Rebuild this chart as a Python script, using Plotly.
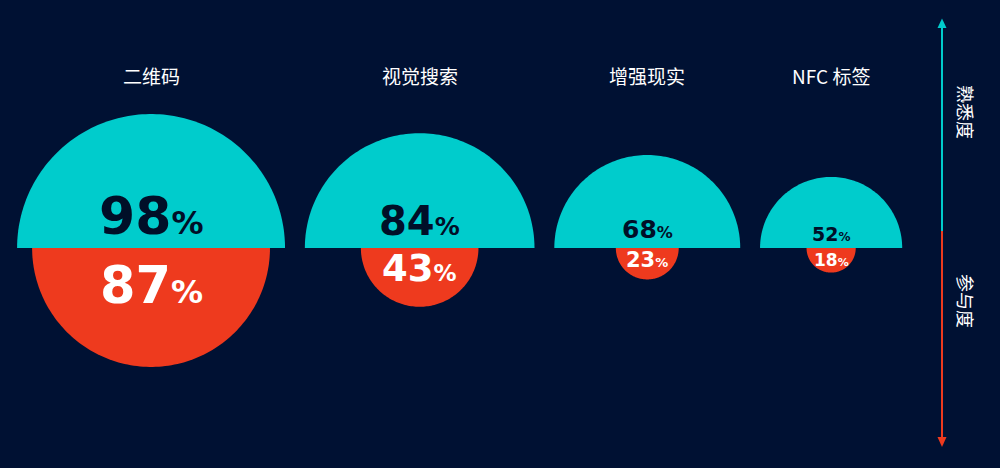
import numpy as np
import plotly.graph_objects as go

# données
names = ["二维码", "视觉搜索", "增强现实", "NFC 标签"]
familiarity = [98, 84, 68, 52]   # 熟悉度 (haut)
engagement = [87, 43, 23, 18]    # 参与度 (bas)

# style
BG = "#001133"
TEAL = "#00CCCC"
RED = "#EE3A1E"
W, H = 1000, 468
S = 1.367          # pixels par unité
BASE_PX = 248      # ligne de base en pixels depuis le haut
top_sizes = [52, 40, 25, 19]
bot_sizes = [51, 37, 21, 17]
top_shift = [32, 27, 19, 14]
bot_shift = [-37, -20, -12, -12]

# centres : cercles juxtaposés
left, gap = 12.5, 14.5
centers = []
x = left
for i, r in enumerate(familiarity):
    if i == 0:
        x = left + r
    else:
        x = x + familiarity[i - 1] + gap + r
    centers.append(x)

fig = go.Figure()
t_top = np.linspace(0, np.pi, 120)
t_bot = np.linspace(np.pi, 2 * np.pi, 120)
for c, a, b in zip(centers, familiarity, engagement):
    fig.add_trace(go.Scatter(x=c + a * np.cos(t_top), y=a * np.sin(t_top), fill="toself",
                             fillcolor=TEAL, mode="none", hoverinfo="skip"))
    fig.add_trace(go.Scatter(x=c + b * np.cos(t_bot), y=b * np.sin(t_bot), fill="toself",
                             fillcolor=RED, mode="none", hoverinfo="skip"))

ann = []
for i, (c, n, a, b) in enumerate(zip(centers, names, familiarity, engagement)):
    ann.append(dict(x=c, y=1 - 75 / H, xref="x", yref="paper", text=n, showarrow=False,
                    xanchor="center", yanchor="middle",
                    font=dict(family="Noto Sans CJK SC", size=19, color="white")))
    fs = top_sizes[i]
    ann.append(dict(x=c, y=0, text=f"<b>{a}<span style='font-size:{fs * 0.62:.0f}px'>%</span></b>",
                    showarrow=False, xanchor="center", yanchor="middle", yshift=top_shift[i],
                    font=dict(family="DejaVu Sans", size=fs, color="#000f28")))
    fs = bot_sizes[i]
    ann.append(dict(x=c, y=0, text=f"<b>{b}<span style='font-size:{fs * 0.62:.0f}px'>%</span></b>",
                    showarrow=False, xanchor="center", yanchor="middle", yshift=bot_shift[i],
                    font=dict(family="DejaVu Sans", size=fs, color="white")))

# axe à droite
ax_x = 942 / W
split = 1 - 231 / H
for txt, ypx in [("熟悉度", 112), ("参与度", 301)]:
    ann.append(dict(x=966 / W, y=1 - ypx / H, xref="paper", yref="paper", text=txt, textangle=90,
                    xanchor="center", yanchor="middle", showarrow=False,
                    font=dict(family="Noto Sans CJK SC", size=18, color="white")))

shapes = [
    dict(type="line", xref="paper", yref="paper", x0=ax_x, x1=ax_x, y0=split, y1=1 - 27 / H,
         line=dict(color=TEAL, width=2)),
    dict(type="line", xref="paper", yref="paper", x0=ax_x, x1=ax_x, y0=split, y1=1 - 438 / H,
         line=dict(color=RED, width=2)),
    dict(type="path", xref="paper", yref="paper", fillcolor=TEAL, line=dict(width=0),
         path=f"M{ax_x - 4.5 / W},{1 - 28 / H} L{ax_x + 4.5 / W},{1 - 28 / H} L{ax_x},{1 - 18.5 / H} Z"),
    dict(type="path", xref="paper", yref="paper", fillcolor=RED, line=dict(width=0),
         path=f"M{ax_x - 4.5 / W},{1 - 437 / H} L{ax_x + 4.5 / W},{1 - 437 / H} L{ax_x},{1 - 447 / H} Z"),
]

fig.update_layout(
    width=W, height=H, margin=dict(l=0, r=0, t=0, b=0),
    paper_bgcolor=BG, plot_bgcolor=BG, showlegend=False,
    xaxis=dict(range=[0, W / S], visible=False, fixedrange=True),
    yaxis=dict(range=[-(H - BASE_PX) / S, BASE_PX / S], visible=False, fixedrange=True),
    annotations=ann, shapes=shapes,
)

# pas de marge blanche autour de la page
fig.write_html("out.html", config={"displayModeBar": False},
               post_script="document.body.style.margin='0';")
